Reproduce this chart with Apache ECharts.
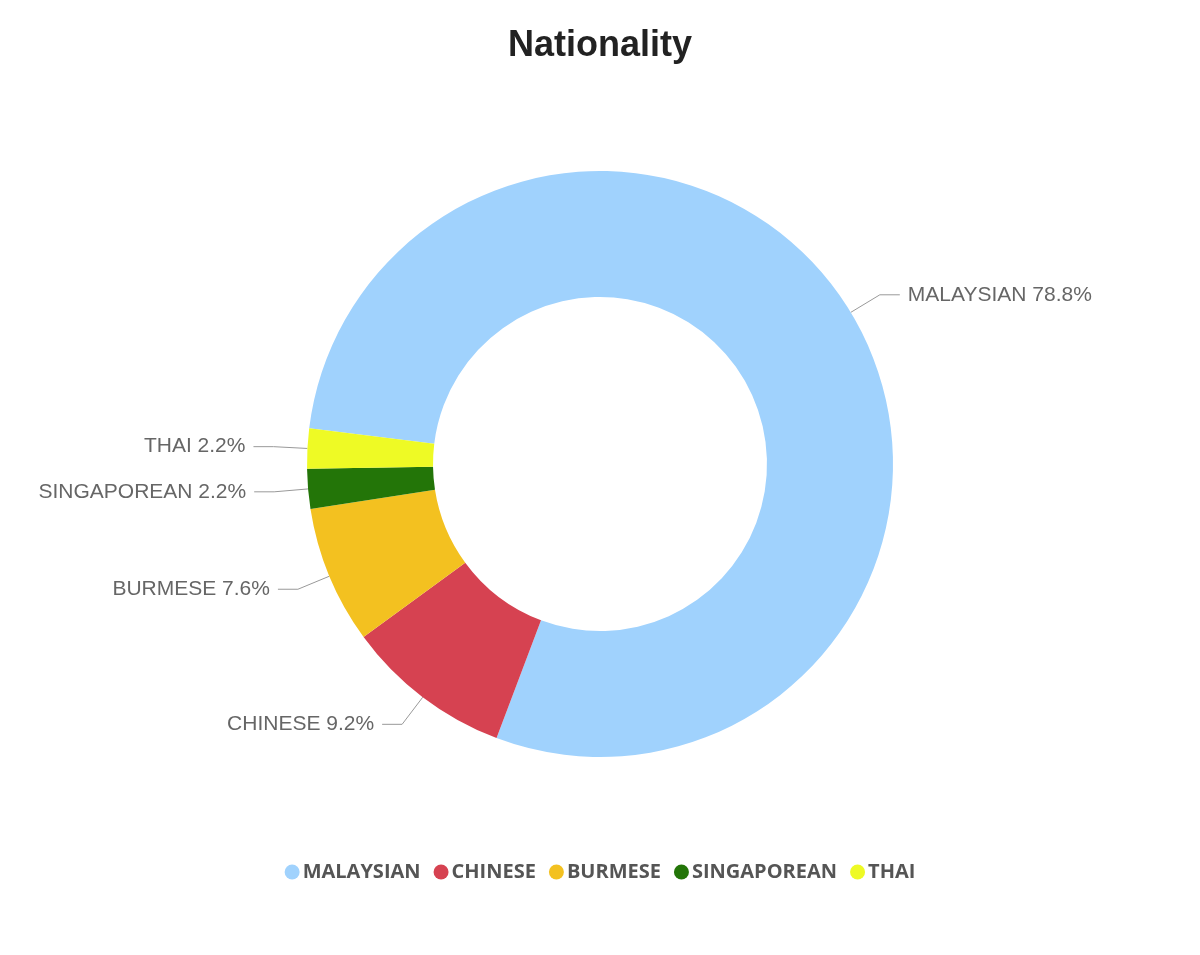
<!DOCTYPE html>
<html><head><meta charset="utf-8">
<script src="https://cdn.jsdelivr.net/npm/echarts@6/dist/echarts.min.js"></script>
<style>html,body{margin:0;padding:0;background:#fff}#c{width:1200px;height:955px}</style>
</head><body><div id="c"></div>
<script>
const categories = ['MALAYSIAN', 'CHINESE', 'BURMESE', 'SINGAPOREAN', 'THAI'];
const values = [78.8, 9.2, 7.6, 2.2, 2.2];
const colors = ['#a0d2fd', '#d64251', '#f3c120', '#237508', '#eefa25'];

const chart = echarts.init(document.getElementById('c'));
chart.setOption({
  animation: false,
  title: {
    text: 'Nationality', left: 'center', top: 23,
    textStyle: { fontFamily: 'Liberation Sans, Arial, sans-serif', fontSize: 36, fontWeight: 'bold', color: '#222' }
  },
  legend: {
    bottom: 68, left: 'center', icon: 'circle', itemWidth: 15, itemHeight: 15, itemGap: 13,
    data: categories,
    textStyle: { fontFamily: 'Open Sans, sans-serif', fontSize: 20, fontWeight: 'bold', color: '#555', padding: [0, 0, 0, -2] }
  },
  series: [{
    type: 'pie',
    center: [600, 464],
    radius: [167, 293],
    startAngle: 173,
    clockwise: true,
    data: categories.map((c, i) => ({ name: c, value: values[i], itemStyle: { color: colors[i] } })),
    label: {
      formatter: p => p.name + ' ' + values[p.dataIndex].toFixed(1) + '%',
      fontFamily: 'Liberation Sans, Arial, sans-serif', fontSize: 21, color: '#666', distanceToLabelLine: 8
    },
    labelLine: { length: 34, length2: 20, lineStyle: { color: '#999', width: 1 } }
  }]
});
</script></body></html>
